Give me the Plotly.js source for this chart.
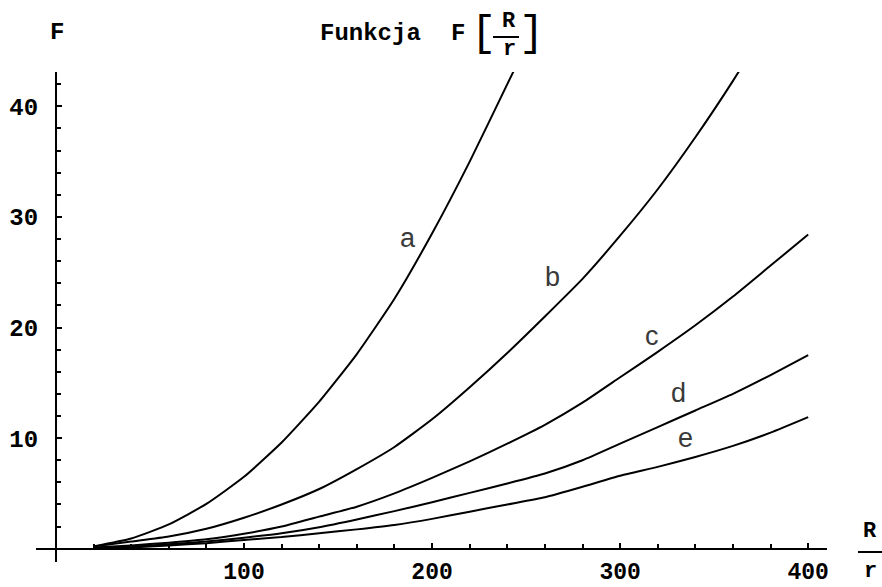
<!DOCTYPE html>
<html>
<head>
<meta charset="utf-8">
<script src="https://cdn.plot.ly/plotly-3.0.1.min.js"></script>
<style>html,body{margin:0;padding:0;background:#fff;}#chart{width:882px;height:587px;}</style>
</head>
<body>
<div id="chart"></div>
<script>
// Data
const xs = [20, 40, 60, 80, 100, 120, 140, 160, 180, 200, 220, 240, 260, 280, 300, 320, 340, 360, 380, 400];
const seriesA = [0.21, 0.92, 2.2, 4.05, 6.5, 9.6, 13.3, 17.6, 22.6, 28.5, 35.0, 42.0, 49, null, null, null, null, null, null, null];
const seriesB = [0.2, 0.65, 1.1, 1.8, 2.8, 4.0, 5.4, 7.2, 9.2, 11.7, 14.6, 17.7, 21.0, 24.4, 28.3, 32.5, 37.2, 42.3, 47.8, null];
const seriesC = [0.1, 0.3, 0.55, 0.85, 1.35, 2.0, 2.9, 3.8, 5.0, 6.4, 7.9, 9.5, 11.2, 13.2, 15.5, 17.8, 20.2, 22.8, 25.6, 28.4];
const seriesD = [0.05, 0.2, 0.4, 0.65, 1.0, 1.4, 1.95, 2.65, 3.4, 4.2, 5.05, 5.9, 6.8, 8.0, 9.5, 11.0, 12.5, 14.0, 15.7, 17.5];
const seriesE = [0.03, 0.12, 0.3, 0.5, 0.8, 1.05, 1.4, 1.75, 2.15, 2.7, 3.35, 4.0, 4.65, 5.6, 6.6, 7.4, 8.3, 9.3, 10.5, 11.9];
const seriesNames = ["a", "b", "c", "d", "e"];
const xTickVals = [100, 200, 300, 400];
const yTickVals = [10, 20, 30, 40];

// label placement (data coordinates), kept separate from values
const labelX = [187, 264, 317, 331, 334.6];
const labelY = [28.1, 24.6, 19.2, 14.05, 9.97];

const allSeries = [seriesA, seriesB, seriesC, seriesD, seriesE];
const traces = allSeries.map((ys, i) => ({
  x: xs, y: ys, type: 'scatter', mode: 'lines', name: seriesNames[i],
  line: {color: '#000', width: 2, shape: 'spline', smoothing: 0.5},
  connectgaps: false, hoverinfo: 'skip'
}));

const mono = "'Liberation Mono', 'DejaVu Sans Mono', monospace";
const W = 882, H = 587;
const L = 36, R = 827, T = 72, B = 562;
const px = v => (v - L) / (R - L);
const py = v => (B - v) / (B - T);

const xr = [-10.6, 410], yr = [-1.2, 43.1];

const annotations = [];
seriesNames.forEach((n, i) => annotations.push({
  x: labelX[i], y: labelY[i], xref: 'x', yref: 'y', text: n, showarrow: false,
  font: {family: "'Liberation Sans', Arial, sans-serif", size: 27, color: '#3a3a3a'}
}));
const txt = (text, x, y, size, weight) => annotations.push({
  x: px(x), y: py(y), xref: 'paper', yref: 'paper', text: text, showarrow: false,
  xanchor: 'center', yanchor: 'middle',
  font: {family: mono, size: size, color: '#000', weight: weight || 'bold'}
});
// title
txt('Funkcja', 370, 34, 24);
txt('F', 458, 34, 24);
txt('[', 483, 34, 42, 'normal');
txt('R', 509, 21, 22);
txt('r', 509, 49, 22);
txt(']', 531, 34, 42, 'normal');
// axis labels
txt('F', 57, 33, 24);
txt('R', 870, 531, 22);
txt('r', 870, 571, 22);

const shapes = [
  {type: 'line', xref: 'paper', yref: 'paper', x0: px(493), x1: px(519), y0: py(37), y1: py(37), line: {color: '#000', width: 2}},
  {type: 'line', xref: 'paper', yref: 'paper', x0: px(858), x1: px(882), y0: py(552), y1: py(552), line: {color: '#000', width: 2}}
];

const layout = {
  width: W, height: H,
  margin: {l: L, r: W - R, t: T, b: H - B, pad: 0},
  paper_bgcolor: '#fff', plot_bgcolor: '#fff',
  showlegend: false,
  xaxis: {
    range: xr, anchor: 'free', position: (0 - yr[0]) / (yr[1] - yr[0]),
    showgrid: false, zeroline: false, showline: true, linecolor: '#000', linewidth: 2.5,
    tickmode: 'array', tickvals: xTickVals, ticks: 'inside', ticklen: 5, tickwidth: 2, tickcolor: '#000',
    minor: {tickmode: 'linear', tick0: 0, dtick: 20, ticks: 'inside', ticklen: 4, tickwidth: 2, tickcolor: '#000'},
    tickfont: {family: mono, size: 23, color: '#000', weight: 'bold'},
    ticklabelstandoff: 1
  },
  yaxis: {
    range: yr, anchor: 'free', position: (0 - xr[0]) / (xr[1] - xr[0]),
    showgrid: false, zeroline: false, showline: true, linecolor: '#000', linewidth: 2.5,
    tickmode: 'array', tickvals: yTickVals, ticks: 'inside', ticklen: 5, tickwidth: 2, tickcolor: '#000',
    minor: {tickmode: 'linear', tick0: 0, dtick: 2, ticks: 'inside', ticklen: 4, tickwidth: 2, tickcolor: '#000'},
    tickfont: {family: mono, size: 24, color: '#000', weight: 'bold'},
    ticklabelstandoff: 12
  },
  annotations: annotations,
  shapes: shapes
};

Plotly.newPlot('chart', traces, layout, {staticPlot: true, displayModeBar: false});
</script>
</body>
</html>
